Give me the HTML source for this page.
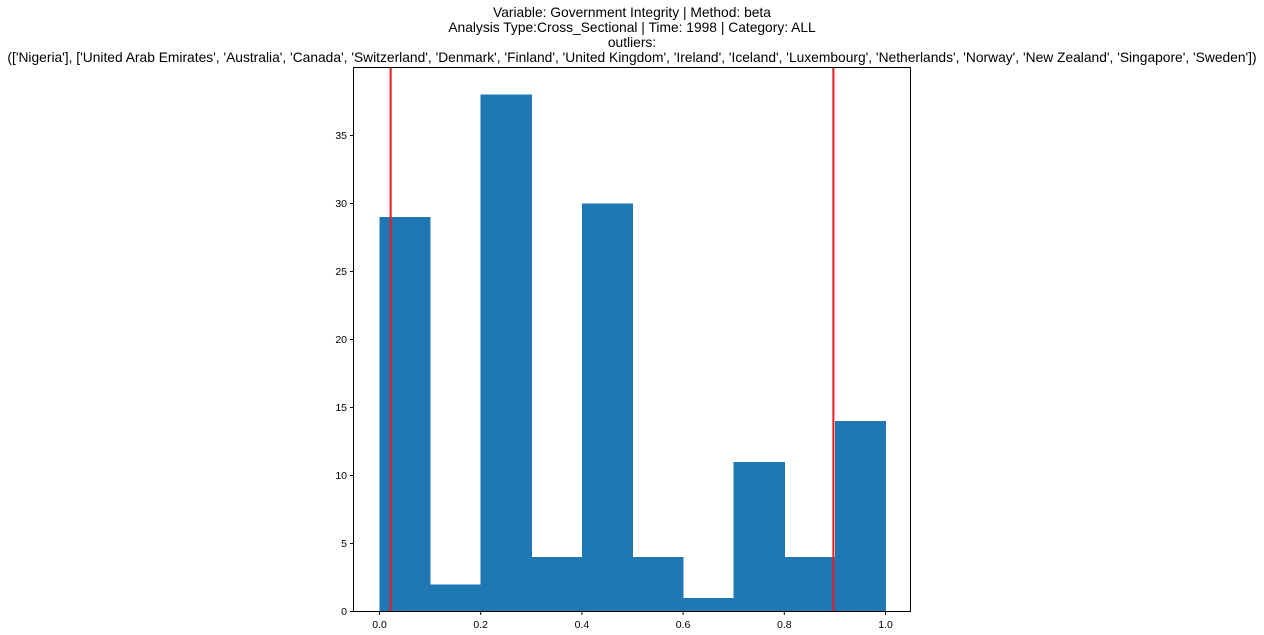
<!DOCTYPE html>
<html><head><meta charset="utf-8"><style>
body{margin:0;background:#fff;}
svg{display:block;font-family:"Liberation Sans","DejaVu Sans",sans-serif;}
</style></head><body>
<svg id="chart" width="1264" height="635" xmlns="http://www.w3.org/2000/svg">
<g font-size="13.8" text-anchor="middle" fill="#000">
<text x="632" y="17">Variable: Government Integrity | Method: beta</text>
<text x="632" y="32">Analysis Type:Cross_Sectional | Time: 1998 | Category: ALL</text>
<text x="632" y="47">outliers:</text>
<text x="632" y="62">(['Nigeria'], ['United Arab Emirates', 'Australia', 'Canada', 'Switzerland', 'Denmark', 'Finland', 'United Kingdom', 'Ireland', 'Iceland', 'Luxembourg', 'Netherlands', 'Norway', 'New Zealand', 'Singapore', 'Sweden'])</text>
</g>
<g id="bars" shape-rendering="crispEdges"></g>
<g id="lines"></g>
<g id="xaxis" font-size="10.5" text-anchor="middle"></g>
<g id="yaxis" font-size="10.5" text-anchor="end"></g>
<rect x="353.5" y="67.5" width="557" height="544" fill="none" stroke="#000" stroke-width="1"/>
</svg>
<script>
const binEdges=[0,0.1,0.2,0.3,0.4,0.5,0.6,0.7,0.8,0.9,1.0];
const counts=[29,2,38,4,30,4,1,11,4,14];
const outlierThresholds=[0.022,0.897];
const xTicks=[0,0.2,0.4,0.6,0.8,1.0];
const xTickLabels=["0.0","0.2","0.4","0.6","0.8","1.0"];
const yTicks=[0,5,10,15,20,25,30,35];
const x=v=>379.5+v*506;
const y=v=>611.5-v*13.6;
const NS="http://www.w3.org/2000/svg";
function mk(t,a,p){const e=document.createElementNS(NS,t);for(const k in a)e.setAttribute(k,a[k]);p.appendChild(e);return e;}
const bars=document.getElementById('bars');
counts.forEach((c,i)=>{
 const r=mk('rect',{x:x(binEdges[i]),y:y(c),width:x(binEdges[i+1])-x(binEdges[i])+0.5,height:y(0)-y(c),fill:'#1f77b4'},bars);
 
 
});
const lines=document.getElementById('lines');
outlierThresholds.forEach((v,i)=>{
 const l=mk('line',{x1:x(v),x2:x(v),y1:67.5,y2:611.5,stroke:'#ee1c1c','stroke-width':2},lines);
 
 
});
const xa=document.getElementById('xaxis');
xTicks.forEach((v,i)=>{
 mk('line',{x1:x(v),x2:x(v),y1:611.5,y2:615,stroke:'#000'},xa);
 const t=mk('text',{x:x(v),y:628},xa);t.textContent=xTickLabels[i];
 
 
});
const ya=document.getElementById('yaxis');
yTicks.forEach(v=>{
 mk('line',{x1:350,x2:353.5,y1:y(v),y2:y(v),stroke:'#000'},ya);
 const t=mk('text',{x:347,y:y(v)+3.5},ya);t.textContent=v;
 
 
});
</script>
</body></html>
